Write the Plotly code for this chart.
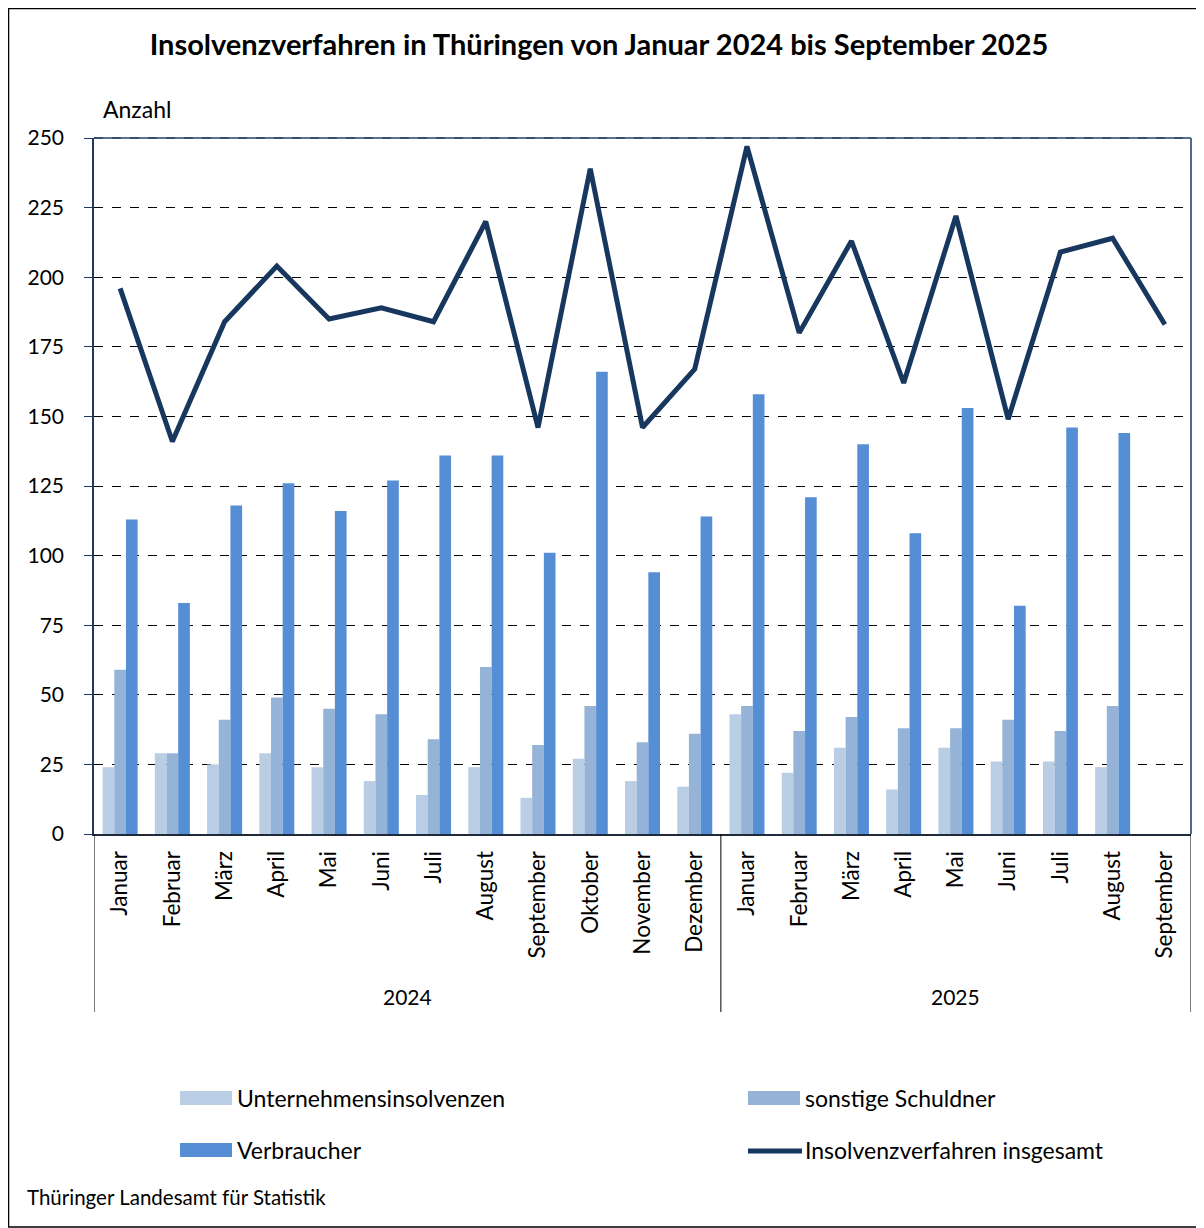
import plotly.graph_objects as go

months = ["Januar", "Februar", "März", "April", "Mai", "Juni", "Juli", "August",
          "September", "Oktober", "November", "Dezember",
          "Januar", "Februar", "März", "April", "Mai", "Juni", "Juli", "August", "September"]
year_of_month = ["2024"] * 12 + ["2025"] * 9
years = ["2024", "2025"]

unternehmen = [24, 29, 25, 29, 24, 19, 14, 24, 13, 27, 19, 17,
               43, 22, 31, 16, 31, 26, 26, 24, None]
sonstige = [59, 29, 41, 49, 45, 43, 34, 60, 32, 46, 33, 36,
            46, 37, 42, 38, 38, 41, 37, 46, None]
verbraucher = [113, 83, 118, 126, 116, 127, 136, 136, 101, 166, 94, 114,
               158, 121, 140, 108, 153, 82, 146, 144, None]
insgesamt = [196, 141, 184, 204, 185, 189, 184, 220, 146, 239, 146, 167,
             247, 180, 213, 162, 222, 149, 209, 214, 183]

series_names = ["Unternehmensinsolvenzen", "sonstige Schuldner", "Verbraucher",
                "Insolvenzverfahren insgesamt"]
colors = ["#B9CDE5", "#95B3D7", "#558ED5", "#17375E"]

FONT = "Lato"
OFF = 8  # page body margin
W, H = 1196, 1220
# plot area in screenshot pixels: x 94..1191, y 138..834
L, T = 94 - OFF, 138 - OFF
R = W - (1191 - OFF)
B = H - (834 - OFF)
PW, PH = W - L - R, H - T - B

def px(xs):
    return (xs - OFF - L) / PW

def py(ys):
    return (H - B - (ys - OFF)) / PH

x = list(range(len(months)))

fig = go.Figure()
for vals, name, col in zip([unternehmen, sonstige, verbraucher], series_names[:3], colors[:3]):
    fig.add_trace(go.Bar(x=x, y=vals, name=name, marker=dict(color=col, line=dict(width=0)),
                         showlegend=False))
fig.add_trace(go.Scatter(x=x, y=insgesamt, name=series_names[3], mode="lines",
                         line=dict(color=colors[3], width=5), showlegend=False))

shapes = []
annotations = []

# plot-area frame: top and right borders
shapes.append(dict(type="line", xref="paper", yref="paper", x0=0, x1=1, y0=1, y1=1,
                   line=dict(color="#5A7294", width=2)))
shapes.append(dict(type="line", xref="paper", yref="paper", x0=0, x1=1, y0=1, y1=1,
                   line=dict(color="#1F2A3A", width=1, dash="dash")))
shapes.append(dict(type="line", xref="paper", yref="paper", x0=1, x1=1, y0=0, y1=1,
                   line=dict(color="#506A8E", width=2)))

# year group separators and labels
bounds = [-0.5]
for yr in years:
    idx = [i for i, yv in enumerate(year_of_month) if yv == yr]
    bounds.append(max(idx) + 0.5)
    annotations.append(dict(x=sum(idx) / len(idx), y=py(996), xref="x", yref="paper",
                            text=yr, showarrow=False, font=dict(size=21, color="black", family=FONT),
                            xanchor="center", yanchor="middle"))
for b in bounds:
    shapes.append(dict(type="line", xref="x", yref="paper", x0=b, x1=b, y0=0, y1=py(1012),
                       line=dict(color="black", width=1)))

# outer frame
shapes.append(dict(type="rect", xref="paper", yref="paper", x0=px(8.5), x1=px(1200),
                   y0=py(1227), y1=py(8.5), line=dict(color="black", width=1.5), layer="below"))

# custom legend
leg = [(180, 1098, 0), (748, 1098, 1), (180, 1150, 2), (748, 1150, 3)]
for lx, ly, k in leg:
    if k < 3:
        shapes.append(dict(type="rect", xref="paper", yref="paper", x0=px(lx), x1=px(lx + 52),
                           y0=py(ly + 7), y1=py(ly - 7), fillcolor=colors[k], line=dict(width=0)))
    else:
        shapes.append(dict(type="line", xref="paper", yref="paper", x0=px(lx), x1=px(lx + 54),
                           y0=py(ly + 1), y1=py(ly + 1), line=dict(color=colors[k], width=5)))
    annotations.append(dict(x=px(lx + 55), y=py(ly), xref="paper", yref="paper",
                            text=series_names[k], showarrow=False, xanchor="left", yanchor="middle",
                            font=dict(size=23, color="black", family=FONT)))

annotations.append(dict(x=px(101), y=py(109), xref="paper", yref="paper", text="Anzahl",
                        showarrow=False, xanchor="left", yanchor="middle",
                        font=dict(size=23, color="black", family=FONT)))
annotations.append(dict(x=px(25), y=py(1197), xref="paper", yref="paper",
                        text="Thüringer Landesamt für Statistik",
                        showarrow=False, xanchor="left", yanchor="middle",
                        font=dict(size=20.5, color="black", family=FONT)))

fig.update_layout(
    width=W, height=H,
    margin=dict(l=L, r=R, t=T, b=B),
    paper_bgcolor="white", plot_bgcolor="white",
    barmode="group", bargap=0.33, bargroupgap=0,
    title=dict(text="<b>Insolvenzverfahren in Thüringen von Januar 2024 bis September 2025</b>",
               x=(599 - OFF) / W, xanchor="center", y=1 - (45 - OFF) / H, yanchor="middle",
               font=dict(size=29, color="black", family=FONT)),
    font=dict(family=FONT, color="black"),
    shapes=shapes, annotations=annotations,
    showlegend=False,
)
fig.update_xaxes(range=[-0.5, len(months) - 0.5], tickmode="array", tickvals=x, ticktext=months,
                 tickangle=-90, tickfont=dict(size=22.5, color="black", family=FONT),
                 showline=True, linecolor="#1F2A3A", linewidth=2, mirror=False,
                 showgrid=False, ticks="", ticklabelstandoff=6, zeroline=False)
fig.update_yaxes(range=[0, 250], dtick=25, tickfont=dict(size=21, color="black", family=FONT),
                 showgrid=True, gridcolor="black", griddash="dash", gridwidth=1,
                 showline=True, linecolor="#1F3864", linewidth=1.5, mirror=False,
                 ticks="outside", ticklen=8, tickcolor="#1F3864", ticklabelstandoff=16,
                 zeroline=False)

fig.write_html("out.html")
